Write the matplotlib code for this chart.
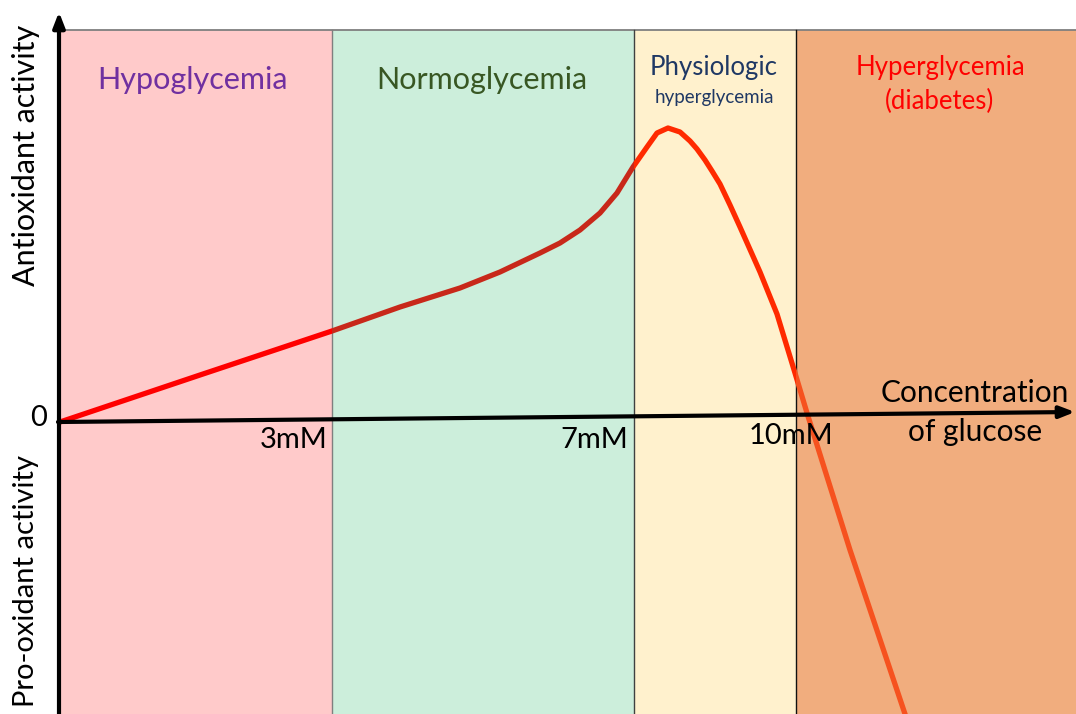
import matplotlib
matplotlib.use("Agg")
import matplotlib.pyplot as plt
from matplotlib.patches import Rectangle

plt.rcParams['font.family'] = ['Lato', 'DejaVu Sans']

# ---- data (horizontal position along glucose axis, activity value; 0 = baseline) ----
region_names = ["Hypoglycemia", "Normoglycemia", "Physiologic", "Hyperglycemia"]
region_edges = [60, 332, 634, 796, 1076]
region_colors = ["#ffcaca", "#cceedb", "#fff1cd", "#f1ad7e"]
curve_colors = ["#ff0000", "#c8281a", "#ff2a00", "#f6521f"]
tick_labels = ["3mM", "7mM", "10mM"]

curve_x = [60, 200, 332, 400, 460, 500, 540, 560, 580, 600, 617, 633, 647, 657, 668,
           680, 690, 697, 705, 712, 720, 730, 740, 760, 777, 795, 807, 850, 905, 915]
curve_y = [0, 47, 91, 115, 134, 150, 169, 179, 192, 209, 229, 255, 275, 289, 294,
           290, 281, 273, 262, 251, 238, 217, 195, 150, 108, 49, 9, -128, -292, -323]

W, H = 1076, 714
base = 422  # baseline pixel row
fig = plt.figure(figsize=(W / 100, H / 100), dpi=100)
ax = fig.add_axes([0, 0, 1, 1])
ax.set_xlim(0, W)
ax.set_ylim(base - H, base)
ax.axis('off')

top = base - 30
bottom = base - H
for i in range(4):
    r = Rectangle((region_edges[i], bottom), region_edges[i + 1] - region_edges[i],
                  top - bottom, facecolor=region_colors[i], edgecolor='none', zorder=1)
    ax.add_patch(r)
    clip = Rectangle((region_edges[i], bottom - 50), region_edges[i + 1] - region_edges[i],
                     top - bottom + 100, transform=ax.transData, facecolor='none', edgecolor='none')
    ax.add_patch(clip)
    ln, = ax.plot(curve_x, curve_y, color=curve_colors[i], lw=3.8, zorder=3,
                  solid_capstyle='round', solid_joinstyle='round')
    ln.set_clip_path(clip)

# borders
ax.plot([region_edges[0], W], [top, top], color='#7f7f7f', lw=1.3, zorder=2)
for xe, c in zip(region_edges[1:4], ['#7f7f7f', '#404040', '#111111']):
    ax.plot([xe, xe], [bottom, top], color=c, lw=1.0, zorder=2)

# axes arrows
ax.annotate('', xy=(59, base - 12), xytext=(59, bottom - 5),
            arrowprops=dict(arrowstyle='-|>,head_width=0.35,head_length=0.9', lw=3, color='black',
                            shrinkA=0, shrinkB=0), zorder=5)
ax.annotate('', xy=(W - 1, 10), xytext=(58, 0),
            arrowprops=dict(arrowstyle='-|>,head_width=0.35,head_length=0.9', lw=3, color='black',
                            shrinkA=0, shrinkB=0), zorder=5)

# region labels
ax.text(193, base - 80, region_names[0], color='#7030a0', fontsize=22, ha='center', va='center', zorder=6)
ax.text(482, base - 80, region_names[1], color='#385723', fontsize=22, ha='center', va='center', zorder=6)
ax.text(714, base - 67, region_names[2], color='#1f3864', fontsize=18.5, ha='center', va='center', zorder=6)
ax.text(714, base - 97, "hyperglycemia", color='#1f3864', fontsize=13.5, ha='center', va='center', zorder=6)
ax.text(940, base - 67, region_names[3], color='#ff0000', fontsize=18.5, ha='center', va='center', zorder=6)
ax.text(940, base - 101, "(diabetes)", color='#ff0000', fontsize=18.5, ha='center', va='center', zorder=6)

# tick labels
ax.text(39, base - 418, "0", fontsize=21, ha='center', va='center', zorder=6)
ax.text(328, base - 440, tick_labels[0], fontsize=21, ha='right', va='center', zorder=6)
ax.text(628, base - 440, tick_labels[1], fontsize=21, ha='right', va='center', zorder=6)
ax.text(791, base - 436, tick_labels[2], fontsize=21, ha='center', va='center', zorder=6)
ax.text(975, base - 393, "Concentration", fontsize=21.5, ha='center', va='center', zorder=6)
ax.text(975, base - 432, "of glucose", fontsize=21.5, ha='center', va='center', zorder=6)

# y labels
ax.text(26, base - 155, "Antioxidant activity", fontsize=22, rotation=90, ha='center', va='center', zorder=6)
ax.text(26, base - 581, "Pro-oxidant activity", fontsize=21, rotation=90, ha='center', va='center', zorder=6)

fig.savefig("out.png", dpi=100)
